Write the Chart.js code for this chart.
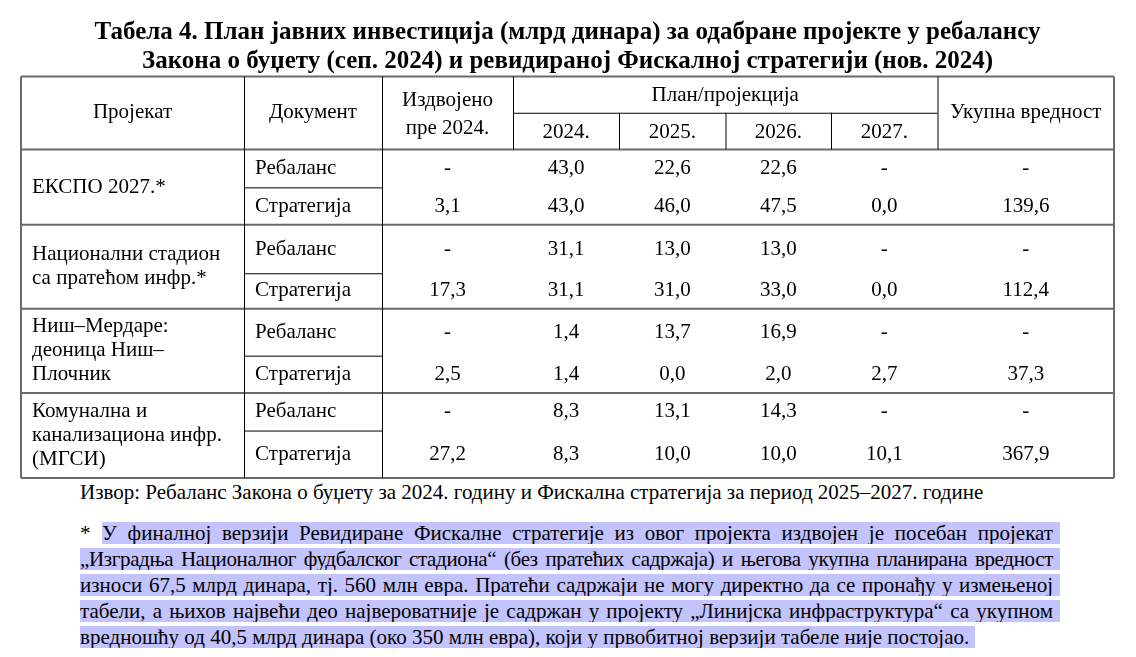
<!DOCTYPE html>
<html lang="sr">
<head>
<meta charset="utf-8">
<script src="https://cdn.jsdelivr.net/npm/chart.js@4.4.1/dist/chart.umd.min.js"></script>
<style>
    body { margin: 0; background: #fff; font-family: "Liberation Serif", "Times New Roman", serif; color: #000; }
    #wrap { width: 1136px; height: 657px; position: relative; overflow: hidden; }
    #table { display: block; }
    .source { position: absolute; left: 80px; top: 481px; font-size: 21px; line-height: 22px; white-space: nowrap; }
    .note { position: absolute; left: 80px; top: 522px; width: 980px; font-size: 21px; }
    .ln { height: 22px; line-height: 22px; margin-bottom: 4px; display: flex; white-space: nowrap; }
    .hl { background: #c3c3ff; display: block; flex: 1; padding-right: 7px; text-align: justify; text-align-last: justify; white-space: normal; overflow: hidden; height: 22px; }
    .hl.tight { letter-spacing: -0.35px; }
    .hl.last { flex: none; text-align: left; text-align-last: left; padding-right: 6px; }
    .star { width: 22px; flex: none; }
</style>
</head>
<body>
<div id="wrap">
    <canvas id="table" width="1136" height="480"></canvas>
    <div class="source">Извор: Ребаланс Закона о буџету за 2024. годину и Фискална стратегија за период 2025–2027. године</div>
    <div class="note">
        <div class="ln"><span class="star">*</span><span class="hl">У финалној верзији Ревидиране Фискалне стратегије из овог пројекта издвојен је посебан пројекат</span></div>
        <div class="ln"><span class="hl tight">„Изградња Националног фудбалског стадиона“ (без пратећих садржаја) и његова укупна планирана вредност</span></div>
        <div class="ln"><span class="hl">износи 67,5 млрд динара, тј. 560 млн евра. Пратећи садржаји не могу директно да се пронађу у измењеној</span></div>
        <div class="ln"><span class="hl">табели, а њихов највећи део највероватније је садржан у пројекту „Линијска инфраструктура“ са укупном</span></div>
        <div class="ln"><span class="hl last">вредношћу од 40,5 млрд динара (око 350 млн евра), који у првобитној верзији табеле није постојао.</span></div>
    </div>
</div>
<script>
// Подаци табеле
const projects = [
    ['ЕКСПО 2027.*'],
    ['Национални стадион', 'са пратећом инфр.*'],
    ['Ниш–Мердаре:', 'деоница Ниш–', 'Плочник'],
    ['Комунална и', 'канализациона инфр.', '(МГСИ)']
];
const documents = ['Ребаланс', 'Стратегија'];
const years = ['2024.', '2025.', '2026.', '2027.'];

// по реду: издвојено пре 2024, 2024, 2025, 2026, 2027, укупно
const expoRebalans = [null, 43.0, 22.6, 22.6, null, null];
const expoStrategija = [3.1, 43.0, 46.0, 47.5, 0.0, 139.6];
const stadionRebalans = [null, 31.1, 13.0, 13.0, null, null];
const stadionStrategija = [17.3, 31.1, 31.0, 33.0, 0.0, 112.4];
const nisRebalans = [null, 1.4, 13.7, 16.9, null, null];
const nisStrategija = [2.5, 1.4, 0.0, 2.0, 2.7, 37.3];
const mgsiRebalans = [null, 8.3, 13.1, 14.3, null, null];
const mgsiStrategija = [27.2, 8.3, 10.0, 10.0, 10.1, 367.9];

const dataRows = [expoRebalans, expoStrategija, stadionRebalans, stadionStrategija,
    nisRebalans, nisStrategija, mgsiRebalans, mgsiStrategija];

// Распоред табеле (јединице скала)
const colEdges = [0, 223, 361, 492, 598, 704.5, 810, 916.5, 1093];
const rowEdges = [0, 36.3, 73, 111, 148.5, 197, 232.5, 279.5, 317, 354.5, 402];

const FONT = '"Liberation Serif", "Times New Roman", serif';

function fmt(v) {
    return v === null ? '-' : v.toFixed(1).replace('.', ',');
}

const tablePlugin = {
    id: 'tablePlugin',
    afterDraw(chart) {
        const ctx = chart.ctx;
        const xs = chart.scales.x;
        const ys = chart.scales.y;
        const px = v => xs.getPixelForValue(v);
        const py = v => ys.getPixelForValue(v);
        const top = py(0), bottom = py(rowEdges[rowEdges.length - 1]);
        const left = px(0), right = px(colEdges[colEdges.length - 1]);

        ctx.save();
        const line = (x1, y1, x2, y2, w, c) => {
            ctx.beginPath();
            ctx.lineWidth = w;
            ctx.strokeStyle = c;
            ctx.moveTo(x1, y1);
            ctx.lineTo(x2, y2);
            ctx.stroke();
        };

        // спољни оквир и хоризонталне линије група
        const major = '#6a6a6a';
        line(left, top, right, top, 2, major);
        line(left, bottom, right, bottom, 2, major);
        line(left, top, left, bottom, 2, major);
        line(right, top, right, bottom, 2, major);
        [2, 4, 6, 8].forEach(i => line(left, py(rowEdges[i]), right, py(rowEdges[i]), 2, major));

        // вертикале
        [1, 2].forEach(i => line(px(colEdges[i]) + 0.5, top, px(colEdges[i]) + 0.5, bottom, 1, '#000'));
        [3, 7].forEach(i => line(px(colEdges[i]) + 0.5, top, px(colEdges[i]) + 0.5, py(rowEdges[2]), 1, '#000'));
        [4, 5, 6].forEach(i => line(px(colEdges[i]) + 0.5, py(rowEdges[1]), px(colEdges[i]) + 0.5, py(rowEdges[2]), 1, '#000'));
        line(px(colEdges[3]), py(rowEdges[1]) + 0.5, px(colEdges[7]), py(rowEdges[1]) + 0.5, 1, '#000');
        // линије између Ребаланс и Стратегија
        [3, 5, 7, 9].forEach(i => line(px(colEdges[1]), py(rowEdges[i]) + 0.5, px(colEdges[2]), py(rowEdges[i]) + 0.5, 1, '#000'));

        ctx.fillStyle = '#000';
        ctx.font = '21px ' + FONT;
        ctx.textBaseline = 'middle';
        ctx.textAlign = 'center';
        const cx = i => (px(colEdges[i]) + px(colEdges[i + 1])) / 2;
        const cy = (a, b) => (py(rowEdges[a]) + py(rowEdges[b])) / 2;

        // заглавље
        ctx.fillText('Пројекат', cx(0), cy(0, 2));
        ctx.fillText('Документ', cx(1), cy(0, 2));
        ctx.fillText('Издвојено', cx(2), cy(0, 2) - 12);
        ctx.fillText('пре 2024.', cx(2), cy(0, 2) + 16);
        ctx.fillText('План/пројекција', (px(colEdges[3]) + px(colEdges[7])) / 2, cy(0, 1) + 1);
        years.forEach((yr, i) => ctx.fillText(yr, cx(3 + i), cy(1, 2) + 1));
        ctx.fillText('Укупна вредност', cx(7), cy(0, 2));

        // пројекти
        ctx.textAlign = 'left';
        projects.forEach((lines, g) => {
            const mid = cy(2 + g * 2, 4 + g * 2);
            lines.forEach((t, k) => {
                ctx.fillText(t, px(colEdges[0]) + 11, mid + (k - (lines.length - 1) / 2) * 24);
            });
        });

        // документи и вредности
        dataRows.forEach((row, r) => {
            const yMid = cy(2 + r, 3 + r);
            ctx.textAlign = 'left';
            ctx.fillText(documents[r % 2], px(colEdges[1]) + 11, yMid);
            ctx.textAlign = 'center';
            row.forEach((v, c) => ctx.fillText(fmt(v), cx(2 + c), yMid));
        });
        ctx.restore();
    }
};

new Chart(document.getElementById('table'), {
    type: 'scatter',
    data: { datasets: [] },
    options: {
        responsive: false,
        devicePixelRatio: 1,
        animation: false,
        layout: { padding: { left: 21, right: 22, top: 0, bottom: 2 } },
        plugins: {
            legend: { display: false },
            tooltip: { enabled: false },
            title: {
                display: true,
                text: [
                    'Табела 4. План јавних инвестиција (млрд динара) за одабране пројекте у ребалансу',
                    'Закона о буџету (сеп. 2024) и ревидираној Фискалној стратегији (нов. 2024)'
                ],
                color: '#000',
                font: { family: FONT, size: 25, weight: 'bold', lineHeight: 1.16 },
                padding: { top: 18.5, bottom: 0 }
            }
        },
        scales: {
            x: { type: 'linear', display: false, min: 0, max: colEdges[colEdges.length - 1] },
            y: { type: 'linear', display: false, reverse: true, min: 0, max: rowEdges[rowEdges.length - 1] }
        }
    },
    plugins: [tablePlugin]
});
</script>
</body>
</html>
